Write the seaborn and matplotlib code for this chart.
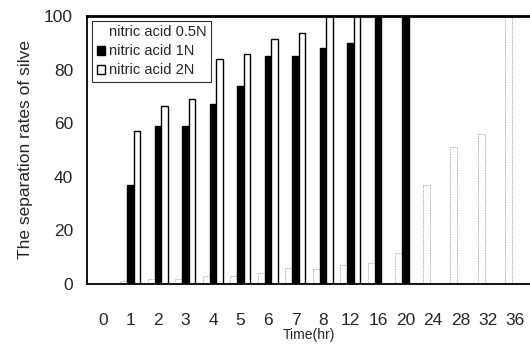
import pandas as pd
import matplotlib
matplotlib.use("Agg")
import matplotlib.pyplot as plt
import seaborn as sns

times = ["0", "1", "2", "3", "4", "5", "6", "7", "8", "12", "16", "20", "24", "28", "32", "36"]
acid_05n = [0, 1, 2, 2, 3, 3, 4, 6, 5.5, 7, 8, 11.5, 37, 51, 56, 100]
acid_1n = [0, 37, 59, 59, 67, 74, 85, 85, 88, 90, 100, 100, 0, 0, 0, 0]
acid_2n = [0, 57, 66.5, 69, 84, 86, 91.5, 93.5, 100, 100, 0, 0, 0, 0, 0, 0]
series = ["nitric acid 0.5N", "nitric acid 1N", "nitric acid 2N"]

rows = []
for name, vals in zip(series, [acid_05n, acid_1n, acid_2n]):
    for t, v in zip(times, vals):
        rows.append({"time": t, "rate": v, "acid": name})
df = pd.DataFrame(rows)

sns.set_style("white")
plt.rcParams["font.family"] = ["Liberation Sans", "DejaVu Sans"]

fig = plt.figure(figsize=(5.3, 3.45), dpi=100)
ax = fig.add_axes([87 / 530, 1 - 284 / 345, 443 / 530, 268 / 345])

sns.barplot(
    data=df, x="time", y="rate", hue="acid",
    order=times, hue_order=series,
    palette={series[0]: "white", series[1]: "black", series[2]: "white"},
    edgecolor="black", linewidth=1.0, width=0.73, gap=0,
    err_kws={"linewidth": 0}, ax=ax,
)

# the 0.5N bars are almost lost in the scan: faint outlines only
for bar in ax.containers[0]:
    bar.set_edgecolor("#b0b0b0")
    bar.set_linewidth(0.6)
    bar.set_linestyle((0, (2, 1)))

ax.set_xlim(-0.58, 15.53)
ax.set_ylim(0, 100)
ax.set_yticks([0, 20, 40, 60, 80, 100])
ax.tick_params(axis="y", direction="in", length=4, width=1, pad=10, labelsize=12.5)
ax.tick_params(axis="x", length=0, pad=21, labelsize=12.5)

ax.set_xlabel("Time(hr)", fontsize=10, labelpad=0)
ax.set_ylabel("The separation rates of silve", fontsize=12.5, labelpad=8)

for side in ["left", "bottom"]:
    ax.spines[side].set_linewidth(1.3)
    ax.spines[side].set_color("black")
ax.spines["top"].set_linewidth(2)
ax.spines["top"].set_color("black")
ax.spines["right"].set_visible(False)

handles, labels = ax.get_legend_handles_labels()
handles[0].set_edgecolor("white")
leg = ax.legend(
    handles, labels, loc="upper left", bbox_to_anchor=(0.012, 0.982),
    fontsize=10.5, frameon=True, fancybox=False, edgecolor="black",
    handlelength=0.6, handleheight=0.6, handletextpad=0.25,
    borderpad=0.3, labelspacing=0.35, borderaxespad=0,
)
leg.get_frame().set_linewidth(0.8)

fig.savefig("out.png", dpi=100)
